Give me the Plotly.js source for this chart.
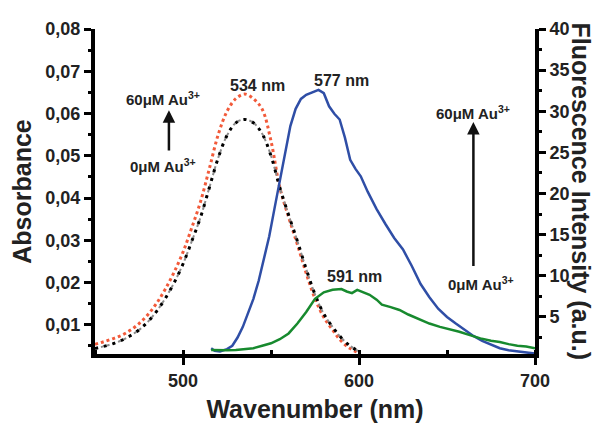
<!DOCTYPE html>
<html>
<head>
<meta charset="utf-8">
<script src="https://cdn.plot.ly/plotly-3.0.1.min.js"></script>
<style>html,body{margin:0;padding:0;background:#fff}#chart{width:600px;height:423px}</style>
</head>
<body>
<div id="chart"></div>
<script>
// Absorbance spectra (left axis)
const wlAbs = [450,455,460,465,470,475,480,485,490,495,500,505,510,515,520,525,530,535,540,545,550,555,560,565,570,575,580,585,590,595,600];
const abs60uM = [0.0054,0.0060,0.0067,0.0075,0.0087,0.0103,0.0124,0.0151,0.0185,0.0225,0.0272,0.0330,0.0392,0.0470,0.0550,0.0605,0.0635,0.0646,0.0635,0.0610,0.0535,0.0425,0.0355,0.0290,0.0222,0.0162,0.0118,0.0088,0.0061,0.0044,0.0033];
const abs0uM  = [0.0044,0.0049,0.0055,0.0063,0.0074,0.0088,0.0107,0.0132,0.0163,0.0200,0.0244,0.0298,0.0355,0.0425,0.0495,0.0548,0.0578,0.0586,0.0578,0.0552,0.0500,0.0425,0.0360,0.0298,0.0232,0.0172,0.0126,0.0095,0.0069,0.0050,0.0037];

// Fluorescence spectra (right axis)
const wlFl60 = [516,518,521,525,528,531,534,537,540,543,546,549,552,555,558,561,564,567,570,574,577,580,583,586,589,592,595,598,601,605,610,615,620,625,630,635,640,645,650,655,660,665,670,675,680,685,690,695,700];
const fl60uM = [1.2,0.9,0.8,1.1,1.5,2.5,3.8,5.4,7.2,9.4,12.0,14.8,18.2,21.7,25.2,28.2,30.3,31.5,32.0,32.4,32.6,32.2,30.6,29.7,29.0,26.8,24.1,23.0,22.1,20.2,18.1,16.3,14.6,13.2,11.2,9.0,7.4,6.0,5.0,4.2,3.4,2.7,2.1,1.6,1.2,0.95,0.8,0.7,0.55];
const wlFl0 = [516,520,525,530,535,540,545,550,555,560,565,570,575,580,585,590,593,596,599,603,606,610,613,618,623,628,635,640,646,652,657,663,669,675,680,685,690,695,700];
const fl0uM = [1.0,0.95,0.95,1.0,1.1,1.2,1.5,1.8,2.3,3.0,4.2,5.6,7.2,8.0,8.3,8.4,8.1,7.9,8.3,8.0,7.7,7.1,6.5,6.2,5.85,5.3,4.6,4.2,3.8,3.5,3.2,2.8,2.4,2.1,1.95,1.7,1.5,1.4,1.2];

const FONT = '"Liberation Sans", Arial, sans-serif';
const TXT = '#222';

const traces = [
  {x: wlAbs, y: abs60uM, mode: 'lines', line: {color: '#f25a3a', width: 3, dash: 'dot', shape: 'spline'}, hoverinfo: 'skip'},
  {x: wlAbs, y: abs0uM, mode: 'lines', line: {color: '#8c8c8c', width: 2, dash: 'dot', shape: 'spline'}, hoverinfo: 'skip'},
  {x: wlAbs, y: abs0uM, mode: 'lines', line: {color: '#000', width: 3, dash: '3px,6px', shape: 'spline'}, hoverinfo: 'skip'},
  {x: wlFl60, y: fl60uM, yaxis: 'y2', mode: 'lines', line: {color: '#2f4ea6', width: 2.5}, hoverinfo: 'skip'},
  {x: wlFl0, y: fl0uM, yaxis: 'y2', mode: 'lines', line: {color: '#178a2e', width: 2.5}, hoverinfo: 'skip'}
];

const tickFont = {family: FONT, size: 18, color: TXT, weight: 'bold'};
const lbl = {family: FONT, size: 16, color: TXT, weight: 'bold'};
const au = {family: FONT, size: 15, color: TXT, weight: 'bold'};

const layout = {
  width: 600, height: 423,
  margin: {l: 95, r: 65, t: 29, b: 69},
  paper_bgcolor: '#fff', plot_bgcolor: '#fff',
  showlegend: false,
  separators: ',.',
  font: {family: FONT, color: TXT},
  xaxis: {
    range: [450, 700], tick0: 0, dtick: 100,
    ticks: 'outside', ticklen: 7, tickwidth: 3, tickcolor: '#000',
    minor: {dtick: 50, ticks: 'inside', ticklen: 4, tickwidth: 3, tickcolor: '#000'},
    showline: true, linewidth: 4, linecolor: '#000',
    showgrid: false, zeroline: false, tickfont: tickFont,
    title: {text: 'Wavenumber (nm)', font: {family: FONT, size: 25, color: TXT, weight: 'bold'}, standoff: 14}
  },
  yaxis: {
    range: [0.0031, 0.08], tick0: 0, dtick: 0.01, tickformat: '.2f',
    ticks: 'outside', ticklen: 7, tickwidth: 3, tickcolor: '#000',
    minor: {dtick: 0.005, ticks: 'outside', ticklen: 3, tickwidth: 3, tickcolor: '#000'},
    showline: true, linewidth: 4, linecolor: '#000',
    showgrid: false, zeroline: false, tickfont: tickFont,
    title: {text: 'Absorbance', font: {family: FONT, size: 25, color: TXT, weight: 'bold'}, standoff: 8}
  },
  yaxis2: {
    overlaying: 'y', side: 'right',
    range: [0.5, 40], tick0: 0, dtick: 5,
    ticks: 'outside', ticklen: 7, tickwidth: 3, tickcolor: '#000',
    minor: {dtick: 2.5, ticks: 'outside', ticklen: 3, tickwidth: 3, tickcolor: '#000'},
    showline: true, linewidth: 4, linecolor: '#000',
    showgrid: false, zeroline: false, tickfont: tickFont
  },
  annotations: [
    {xref: 'paper', yref: 'paper', x: 1, y: 0.5, xshift: 46, textangle: 90, showarrow: false,
     xanchor: 'center', yanchor: 'middle',
     text: 'Fluorescence Intensity (a.u.)', font: {family: FONT, size: 25, color: TXT, weight: 'bold'}},
    {x: 542.6, y: 0.0667, showarrow: false, text: '534 nm', font: lbl},
    {x: 589.8, y: 0.0679, showarrow: false, text: '577 nm', font: lbl},
    {x: 597.7, y: 0.0215, showarrow: false, text: '591 nm', font: lbl},
    {x: 488.6, y: 0.0636, showarrow: false, text: '60μM Au<sup>3+</sup>', font: au},
    {x: 488.6, y: 0.0478, showarrow: false, text: '0μM Au<sup>3+</sup>', font: au},
    {x: 664.8, y: 0.0603, showarrow: false, text: '60μM Au<sup>3+</sup>', font: au},
    {x: 669.3, y: 0.0199, showarrow: false, text: '0μM Au<sup>3+</sup>', font: au},
    {x: 492, y: 0.0608, ax: 492, ay: 0.0509, xref: 'x', yref: 'y', axref: 'x', ayref: 'y',
     text: '', showarrow: true, arrowhead: 2, arrowsize: 1, arrowwidth: 2.5, arrowcolor: '#111'},
    {x: 665, y: 28.7, ax: 665, ay: 11.0, xref: 'x', yref: 'y2', axref: 'x', ayref: 'y2',
     text: '', showarrow: true, arrowhead: 2, arrowsize: 1, arrowwidth: 2.5, arrowcolor: '#111'}
  ]
};

Plotly.newPlot('chart', traces, layout, {staticPlot: true, displayModeBar: false});
</script>
</body>
</html>
